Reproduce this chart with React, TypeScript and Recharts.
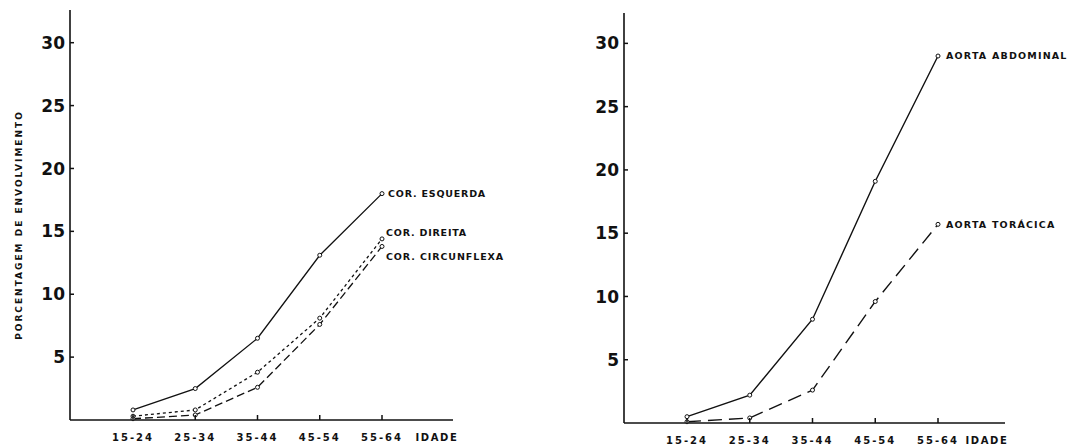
import React from 'react';
import { LineChart, Line, XAxis, YAxis } from 'recharts';

const ageGroups = ['15-24', '25-34', '35-44', '45-54', '55-64'];
const corEsquerda = [0.8, 2.5, 6.5, 13.1, 18.0];
const corDireita = [0.3, 0.8, 3.8, 8.1, 14.4];
const corCircunflexa = [0.1, 0.4, 2.6, 7.6, 13.8];
const aortaAbdominal = [0.5, 2.2, 8.2, 19.1, 29.0];
const aortaToracica = [0.1, 0.4, 2.6, 9.6, 15.7];
const yTicks = [5, 10, 15, 20, 25, 30];

const leftData = ageGroups.map((g, i) => ({
  age: g,
  esq: corEsquerda[i],
  dir: corDireita[i],
  circ: corCircunflexa[i],
}));
const rightData = ageGroups.map((g, i) => ({
  age: g,
  abd: aortaAbdominal[i],
  tor: aortaToracica[i],
}));

const INK = '#111';
const FONT = '"DejaVu Sans", sans-serif';

const YTick = (props: any) => {
  const { x, y, payload } = props;
  return (
    <g>
      <text x={x} y={y} dy="0.36em" textAnchor="end" fontFamily={FONT} fontWeight="bold" fontSize={17} fill={INK}>
        {payload.value}
      </text>
      <line x1={x + 5} x2={x + 9} y1={y} y2={y} stroke={INK} strokeWidth={1.5} />
    </g>
  );
};

const XTick = (props: any) => {
  const { x, y, payload } = props;
  return (
    <g>
      <line x1={x} x2={x} y1={y} y2={y - 5} stroke={INK} strokeWidth={1.5} />
      <text x={x} y={y + 17} dy="0.36em" textAnchor="middle" fontFamily={FONT} fontWeight="bold" fontSize={10} letterSpacing={2} fill={INK}>
        {payload.value}
      </text>
    </g>
  );
};

const idadeLabel = (inset: number) => (props: any) => {
  const vb = props.viewBox;
  return (
    <text x={vb.x + vb.width - inset} y={vb.y + 17} dy="0.36em" textAnchor="middle" fontFamily={FONT} fontWeight="bold" fontSize={10} letterSpacing={1.6} fill={INK}>
      IDADE
    </text>
  );
};

const endLabel = (text: string, dx: number, dy: number, spacing: number) => (props: any) => {
  const { x, y, index } = props;
  if (index !== ageGroups.length - 1) return null;
  return (
    <text x={x + dx} y={y + dy} dy="0.36em" textAnchor="start" fontFamily={FONT} fontWeight="bold" fontSize={9.5} letterSpacing={spacing} fill={INK}>
      {text}
    </text>
  );
};

const dotStyle = { r: 2, fill: '#fff', stroke: INK, strokeWidth: 1, strokeDasharray: 'none' };

const yLabel = (props: any) => {
  const vb = props.viewBox;
  const cx = 19;
  const cy = vb.y + vb.height / 2 + 10;
  return (
    <text x={cx} y={cy} dy="0.36em" textAnchor="middle" transform={`rotate(-90, ${cx}, ${cy})`} fontFamily={FONT} fontWeight="bold" fontSize={9} letterSpacing={2} fill={INK}>
      PORCENTAGEM DE ENVOLVIMENTO
    </text>
  );
};

export default function App() {
  return (
    <div style={{ position: 'absolute', left: 0, top: 0, width: 1073, height: 446, background: '#fff' }}>
      <div style={{ position: 'absolute', left: 0, top: 0 }}>
        <LineChart width={540} height={446} data={leftData} margin={{ top: 10, right: 87, bottom: 6, left: 0 }}>
          <XAxis
            dataKey="age"
            height={20}
            padding={{ left: 63, right: 71 }}
            axisLine={{ stroke: INK, strokeWidth: 1.6 }}
            tickLine={false}
            tickSize={0}
            tickMargin={0}
            tick={<XTick />}
            interval={0}
            label={idadeLabel(16)}
          />
          <YAxis
            type="number"
            domain={[0, 32.6]}
            ticks={yTicks}
            width={70}
            axisLine={{ stroke: INK, strokeWidth: 1.6 }}
            tickLine={false}
            tickSize={0}
            tickMargin={5}
            tick={<YTick />}
            interval={0}
            label={yLabel}
          />
          <Line dataKey="esq" stroke={INK} strokeWidth={1.3} dot={dotStyle} isAnimationActive={false} label={endLabel('COR. ESQUERDA', 6, 0, 0.8)} />
          <Line dataKey="dir" stroke={INK} strokeWidth={1.3} strokeDasharray="3 3" dot={dotStyle} isAnimationActive={false} label={endLabel('COR. DIREITA', 4, -6, 0.8)} />
          <Line dataKey="circ" stroke={INK} strokeWidth={1.3} strokeDasharray="8 4" dot={dotStyle} isAnimationActive={false} label={endLabel('COR. CIRCUNFLEXA', 4, 10, 0.9)} />
        </LineChart>
      </div>
      <div style={{ position: 'absolute', left: 540, top: 0 }}>
        <LineChart width={533} height={446} data={rightData} margin={{ top: 13, right: 68, bottom: 3, left: 0 }}>
          <XAxis
            dataKey="age"
            height={20}
            padding={{ left: 63, right: 67 }}
            axisLine={{ stroke: INK, strokeWidth: 1.6 }}
            tickLine={false}
            tickSize={0}
            tickMargin={0}
            tick={<XTick />}
            interval={0}
            label={idadeLabel(18)}
          />
          <YAxis
            type="number"
            domain={[0, 32.4]}
            ticks={yTicks}
            width={84}
            axisLine={{ stroke: INK, strokeWidth: 1.6 }}
            tickLine={false}
            tickSize={0}
            tickMargin={5}
            tick={<YTick />}
            interval={0}
          />
          <Line dataKey="abd" stroke={INK} strokeWidth={1.4} dot={dotStyle} isAnimationActive={false} label={endLabel('AORTA ABDOMINAL', 8, 0, 1.2)} />
          <Line dataKey="tor" stroke={INK} strokeWidth={1.4} strokeDasharray="14 7" dot={dotStyle} isAnimationActive={false} label={endLabel('AORTA TORÁCICA', 8, 0, 1.2)} />
        </LineChart>
      </div>
    </div>
  );
}
